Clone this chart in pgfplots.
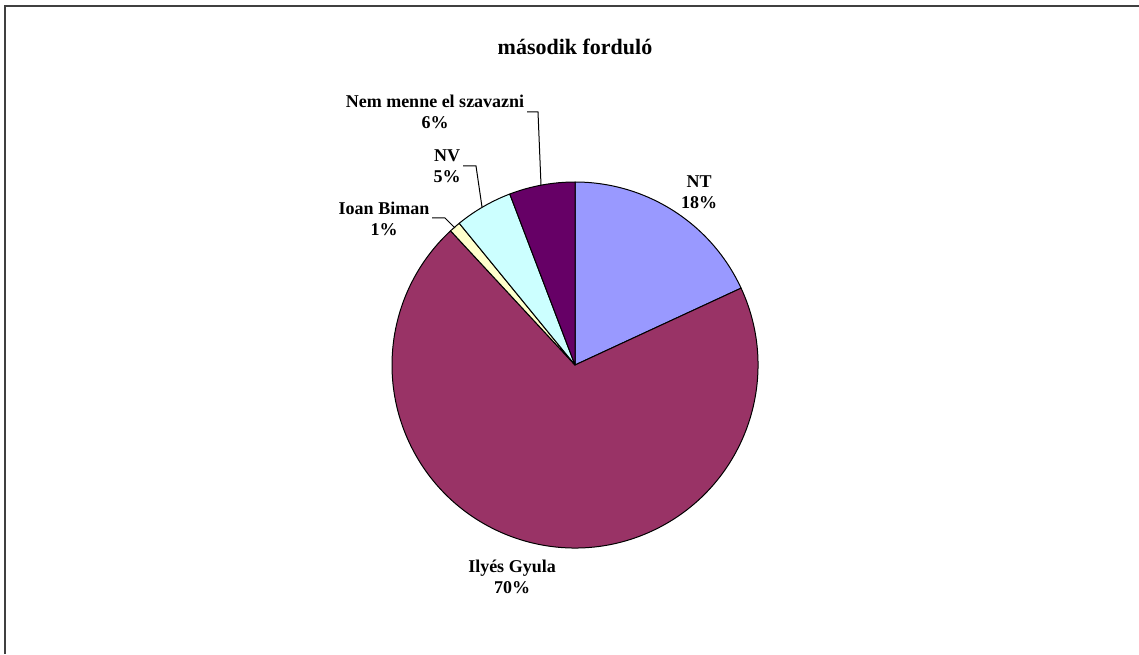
\documentclass[border=0pt]{standalone}
\usepackage{pgfplots}
\usepackage{pgfplotstable}
\pgfplotsset{compat=1.18}
\usepackage{fontspec}
\setmainfont{Liberation Serif}
\definecolor{ntc}{HTML}{9999FF}
\definecolor{ilc}{HTML}{993366}
\definecolor{ibc}{HTML}{FFFFCC}
\definecolor{nvc}{HTML}{CCFFFF}
\definecolor{nmc}{HTML}{660066}
\definecolor{framec}{HTML}{404040}

% share of votes, clockwise from 12 o'clock
\pgfplotstableread{
value color
18.1 ntc
70.0 ilc
1.0 ibc
5.1 nvc
5.8 nmc
}\piedata

\begin{document}
\begin{tikzpicture}[lbl/.style={font=\fontsize{9}{10.5}\selectfont\bfseries, align=center, inner sep=0pt}]
\begin{axis}[
    scale only axis,
    width=569.5pt, height=327pt,
    xmin=0, xmax=1139, ymin=0, ymax=654,
    hide axis, clip=false,
]
% outer frame (only top and left edge show)
\draw[framec, line width=1pt] (axis cs:5,0) -- (axis cs:5,648) -- (axis cs:1139,648);

% slices
\def\cum{0}
\pgfplotsforeachungrouped \i in {0,...,4}{
    \pgfplotstablegetelem{\i}{value}\of\piedata \let\v\pgfplotsretval
    \pgfplotstablegetelem{\i}{color}\of\piedata \let\c\pgfplotsretval
    \pgfmathsetmacro\a{90-3.6*\cum}
    \pgfmathsetmacro\b{90-3.6*(\cum+\v)}
    \edef\temp{\noexpand\filldraw[fill=\c, draw=black, line width=0.5pt, line join=round]
        (axis cs:575,289) -- ++(\a:91.5pt) arc[start angle=\a, end angle=\b, radius=91.5pt] -- cycle;}
    \temp
    \pgfmathsetmacro\cum{\cum+\v}
}

% title
\node[font=\fontsize{11}{13}\selectfont\bfseries] at (axis cs:575,607) {második forduló};

% labels
\node[lbl] at (axis cs:699,462) {NT\\18\%};
\node[lbl] at (axis cs:512,77) {Ilyés Gyula\\70\%};
\node[lbl] at (axis cs:384,435) {Ioan Biman\\1\%};
\node[lbl] at (axis cs:447,488) {NV\\5\%};
\node[lbl] at (axis cs:435,542) {Nem menne el szavazni\\6\%};

% leader lines
\draw[black, line width=0.5pt] (axis cs:527,542) -- (axis cs:538,542) -- (axis cs:541,469);
\draw[black, line width=0.5pt] (axis cs:463,488) -- (axis cs:476,488) -- (axis cs:482,447);
\draw[black, line width=0.5pt] (axis cs:432,436) -- (axis cs:445,436) -- (axis cs:455,426);
\end{axis}
\pgfresetboundingbox
\path[use as bounding box] (0,0) rectangle (569.5pt,327pt);
\end{tikzpicture}
\end{document}
